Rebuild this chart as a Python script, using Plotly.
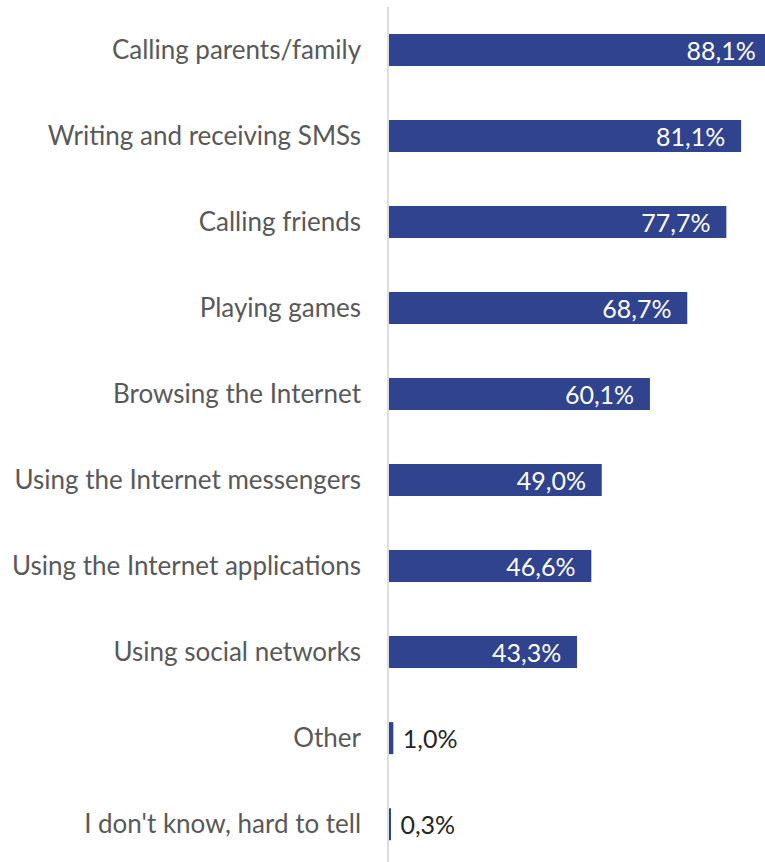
import plotly.graph_objects as go

categories = [
    "Calling parents/family",
    "Writing and receiving SMSs",
    "Calling friends",
    "Playing games",
    "Browsing the Internet",
    "Using the Internet messengers",
    "Using the Internet applications",
    "Using social networks",
    "Other",
    "I don't know, hard to tell",
]
shares = [88.1, 81.1, 77.7, 68.7, 60.1, 49.0, 46.6, 43.3, 1.0, 0.3]

NB = "\u00a0"
labels = []
positions = []
for v in shares:
    s = f"{v:.1f}".replace(".", ",") + "%"
    if v >= 10:
        labels.append(s + NB * 2)
        positions.append("inside")
    else:
        labels.append(NB + s)
        positions.append("outside")

FONT = "Lato"
BAR = "#30438E"

fig = go.Figure(
    go.Bar(
        x=shares,
        y=categories,
        orientation="h",
        marker=dict(color=BAR, line=dict(width=0)),
        width=0.372,
        text=labels,
        textposition=positions,
        insidetextanchor="end",
        insidetextfont=dict(family=FONT, size=25, color="white"),
        outsidetextfont=dict(family=FONT, size=25, color="#262626"),
        textangle=0,
        constraintext="none",
    )
)

fig.update_layout(
    width=765,
    height=862,
    margin=dict(l=389, r=0, t=7, b=0),
    paper_bgcolor="white",
    plot_bgcolor="white",
    showlegend=False,
    font=dict(family=FONT, color="#595959", size=26),
    xaxis=dict(
        range=[0, 86.6],
        visible=False,
        showgrid=False,
        zeroline=False,
    ),
    yaxis=dict(
        type="category",
        categoryorder="array",
        categoryarray=categories,
        range=[9.44, -0.5],
        showgrid=False,
        zeroline=False,
        showline=True,
        linecolor="#DDDDDD",
        linewidth=1.5,
        ticks="",
        ticklabelstandoff=21,
        tickfont=dict(family=FONT, size=26, color="#595959"),
    ),
)

fig.write_html("out.html")
